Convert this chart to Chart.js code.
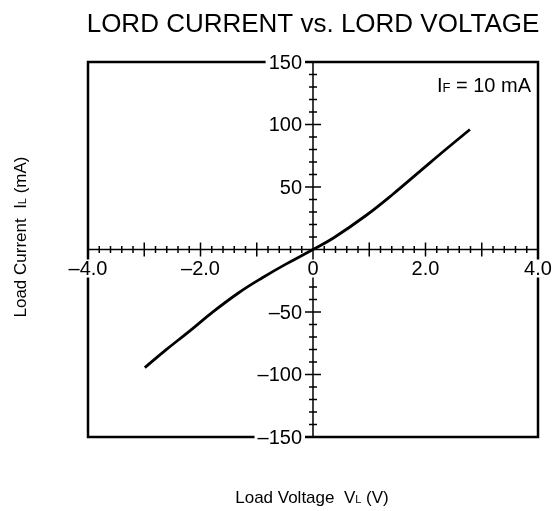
<!DOCTYPE html>
<html>
<head>
<meta charset="utf-8">
<script src="https://cdn.jsdelivr.net/npm/chart.js@4.4.1/dist/chart.umd.min.js"></script>
<style>
  html, body { margin: 0; padding: 0; background: #fff; }
  #chart { display: block; }
</style>
</head>
<body>
<canvas id="chart" width="558" height="511"></canvas>
<script>
// values
const voltage = [-2.99, -2.62, -2.20, -1.79, -1.32, -0.90, -0.49, 0, 0.37, 0.96, 1.43, 1.91, 2.38, 2.79];
const current = [-94.5, -80.5, -65.5, -50.3, -34.6, -22.6, -11.9, 0, 9.4, 27.8, 44.6, 62.9, 80.8, 96];

const xTickLabels = [-4, -2, 0, 2, 4];
const yTickLabels = [-150, -100, -50, 50, 100, 150];

const FONT = '"Liberation Sans", Arial, Helvetica, sans-serif';

function fmt(v, dec) {
  if (v === 0) return '0';
  const s = Math.abs(v).toFixed(dec);
  return v < 0 ? '\u2013' + s : s;
}

// draws text made of pieces (for the small subscript letters)
function drawRich(ctx, parts, x, cy, align) {
  let total = 0;
  parts.forEach(p => {
    ctx.font = p.size + 'px ' + FONT;
    p.w = ctx.measureText(p.t).width;
    total += p.w;
  });
  const base = cy + parts[0].size * 0.716 / 2;
  let cx = align === 'right' ? x - total : align === 'center' ? x - total / 2 : x;
  ctx.textAlign = 'left';
  ctx.textBaseline = 'alphabetic';
  parts.forEach(p => {
    ctx.font = p.size + 'px ' + FONT;
    ctx.fillText(p.t, cx, base);
    cx += p.w;
  });
}

function labelWithBack(ctx, text, x, y, align) {
  ctx.font = '20px ' + FONT;
  const w = ctx.measureText(text).width;
  const left = align === 'right' ? x - w : x - w / 2;
  ctx.fillStyle = '#fff';
  ctx.fillRect(left - 3, y - 9, w + 6, 18);
  ctx.fillStyle = '#000';
  ctx.textAlign = 'left';
  ctx.textBaseline = 'middle';
  ctx.fillText(text, left, y + 1);
}

const framePlugin = {
  id: 'frame',
  beforeDatasetsDraw(chart) {
    const { ctx, chartArea: a, scales: { x, y } } = chart;
    const x0 = x.getPixelForValue(0);
    const y0 = y.getPixelForValue(0);
    ctx.save();
    ctx.strokeStyle = '#000';

    // axes through the origin
    ctx.lineWidth = 1.5;
    ctx.beginPath();
    ctx.moveTo(a.left, y0); ctx.lineTo(a.right, y0);
    ctx.moveTo(x0, a.top); ctx.lineTo(x0, a.bottom);
    ctx.stroke();

    // x ticks every 0.2 V
    ctx.beginPath();
    for (let i = -19; i <= 19; i++) {
      if (i === 0) continue;
      const px = x.getPixelForValue(i / 5);
      const len = i % 5 === 0 ? 7 : 3.5;
      ctx.moveTo(px, y0 - len); ctx.lineTo(px, y0 + len);
    }
    // y ticks every 10 mA
    for (let v = -150; v <= 150; v += 10) {
      if (v === 0) continue;
      const py = y.getPixelForValue(v);
      const len = v % 50 === 0 ? 8 : 4;
      ctx.moveTo(x0 - len, py); ctx.lineTo(x0 + len, py);
    }
    ctx.stroke();

    // outer box
    ctx.lineWidth = 2.5;
    ctx.strokeRect(a.left, a.top, a.width, a.height);
    ctx.restore();
  },
  afterDraw(chart) {
    const { ctx, chartArea: a, scales: { x, y } } = chart;
    const x0 = x.getPixelForValue(0);
    const y0 = y.getPixelForValue(0);
    ctx.save();

    xTickLabels.forEach(v => {
      labelWithBack(ctx, fmt(v, 1), x.getPixelForValue(v), y0 + 19, 'center');
    });
    yTickLabels.forEach(v => {
      labelWithBack(ctx, fmt(v, 0), x0 - 11, y.getPixelForValue(v), 'right');
    });

    ctx.fillStyle = '#000';
    ctx.font = '26px ' + FONT;
    ctx.textAlign = 'center';
    ctx.textBaseline = 'middle';
    ctx.fillText('LORD CURRENT vs. LORD VOLTAGE', 313, 25);

    drawRich(ctx, [{ t: 'I', size: 20 }, { t: 'F', size: 13 }, { t: ' = 10 mA', size: 20 }], a.right - 7, 85, 'right');

    drawRich(ctx, [{ t: 'Load Voltage  V', size: 17 }, { t: 'L', size: 11 }, { t: ' (V)', size: 17 }], 312, 497, 'center');

    ctx.translate(20, 237);
    ctx.rotate(-Math.PI / 2);
    drawRich(ctx, [{ t: 'Load Current  I', size: 17 }, { t: 'L', size: 11 }, { t: ' (mA)', size: 17 }], 0, 0, 'center');
    ctx.restore();
  }
};

new Chart(document.getElementById('chart'), {
  type: 'scatter',
  data: {
    datasets: [{
      data: voltage.map((v, i) => ({ x: v, y: current[i] })),
      showLine: true,
      borderColor: '#000',
      borderWidth: 2.8,
      pointRadius: 0,
      tension: 0.4,
      fill: false
    }]
  },
  options: {
    responsive: false,
    animation: false,
    layout: { padding: { left: 88, right: 20, top: 62, bottom: 74 } },
    plugins: { legend: { display: false }, tooltip: { enabled: false }, title: { display: false } },
    scales: {
      x: { type: 'linear', min: -4, max: 4, display: false },
      y: { type: 'linear', min: -150, max: 150, display: false }
    }
  },
  plugins: [framePlugin]
});
</script>
</body>
</html>
